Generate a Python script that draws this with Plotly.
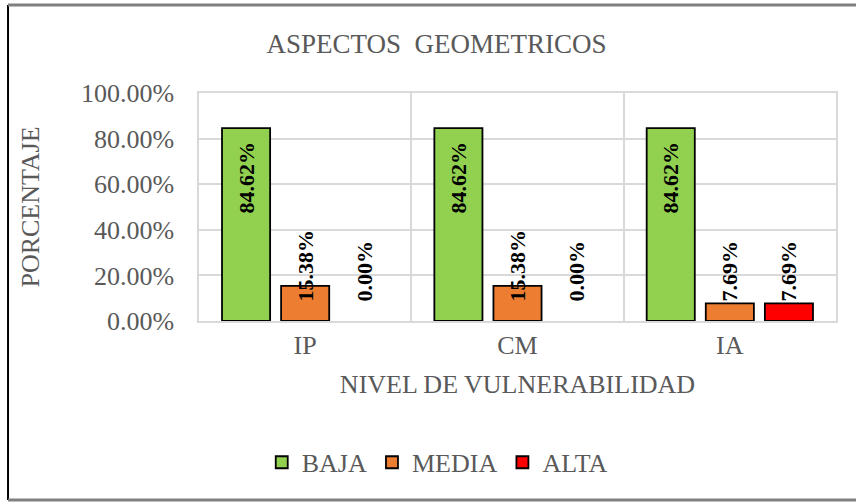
import plotly.graph_objects as go

categories = ["IP", "CM", "IA"]
baja = [0.8462, 0.8462, 0.8462]
media = [0.1538, 0.1538, 0.0769]
alta = [0.0, 0.0, 0.0769]
y_ticks = [0, 0.2, 0.4, 0.6, 0.8, 1.0]

FONT = "Liberation Serif"
GRAY = "#595959"
GRID = "#d9d9d9"
NBSP = "\u00a0"

fig = go.Figure()
series = [("BAJA", baja, "#92d050", "end"),
          ("MEDIA", media, "#ed7d31", "start"),
          ("ALTA", alta, "#ff0000", "start")]
for name, vals, color, anchor in series:
    labels = [f"{v * 100:.2f}%" for v in vals]
    if anchor == "end":
        labels = [t + NBSP * 2 for t in labels]
    else:
        labels = [NBSP * 3 + t for t in labels]
    # zero bars are hidden (no outline on the axis), their label stays
    shown = [i for i, v in enumerate(vals) if v > 0]
    fig.add_trace(go.Bar(
        x=categories, y=vals, name=name,
        marker=dict(color=color, line=dict(color="black", width=1.8)),
        selectedpoints=shown,
        selected=dict(textfont=dict(color="black")),
        unselected=dict(marker=dict(opacity=0), textfont=dict(color="black")),
        text=labels,
        textposition=["inside" if v > 0 else "outside" for v in vals],
        insidetextanchor=anchor, textangle=-90,
        constraintext="none", cliponaxis=False,
        textfont=dict(family=FONT, size=22, color="black", weight="bold"),
    ))

# outer frame of the chart
fig.add_shape(type="line", xref="paper", yref="paper", x0=-0.2998, x1=-0.2998,
              y0=-0.785, y1=1.386, line=dict(color="black", width=2))
fig.add_shape(type="line", xref="paper", yref="paper", x0=-0.2998, x1=1.1,
              y0=1.386, y1=1.386, line=dict(color="#808080", width=3))
fig.add_shape(type="line", xref="paper", yref="paper", x0=-0.2998, x1=1.1,
              y0=-0.785, y1=-0.785, line=dict(color="#808080", width=3))

fig.update_layout(
    width=856, height=503,
    margin=dict(l=199, r=20, t=93, b=182, autoexpand=False),
    paper_bgcolor="white", plot_bgcolor="white",
    barmode="group", bargap=0.165, bargroupgap=0.186,
    font=dict(family=FONT, color=GRAY, size=26),
    title=dict(text="ASPECTOS  GEOMETRICOS", x=0.51, xanchor="center",
               y=1 - 44 / 503, yanchor="middle",
               font=dict(family=FONT, size=27, color=GRAY)),
    legend=dict(orientation="h", x=0.374, xanchor="center", y=-0.62, yanchor="middle",
                font=dict(family=FONT, size=26, color=GRAY), itemwidth=30,
                traceorder="normal"),
    xaxis=dict(title=dict(text="NIVEL DE VULNERABILIDAD", standoff=16,
                          font=dict(size=26, color=GRAY)),
               automargin=False,
               tickson="boundaries", ticks="", showgrid=True, gridcolor=GRID,
               gridwidth=1.5, showline=True, mirror=True, linecolor=GRID,
               linewidth=1.5, tickfont=dict(size=26, color=GRAY)),
    yaxis=dict(title=dict(text="PORCENTAJE", standoff=34,
                          font=dict(size=26, color=GRAY)),
               automargin=False, ticklabelstandoff=18,
               range=[0, 1], tickvals=y_ticks, tickformat=".2%",
               showgrid=True, gridcolor=GRID, gridwidth=1.5, zeroline=False,
               showline=True, mirror=True, linecolor=GRID, linewidth=1.5,
               tickfont=dict(size=26, color=GRAY)),
)

fig.write_html("out.html", config={"displayModeBar": False},
               post_script="document.body.style.margin = '0';")
